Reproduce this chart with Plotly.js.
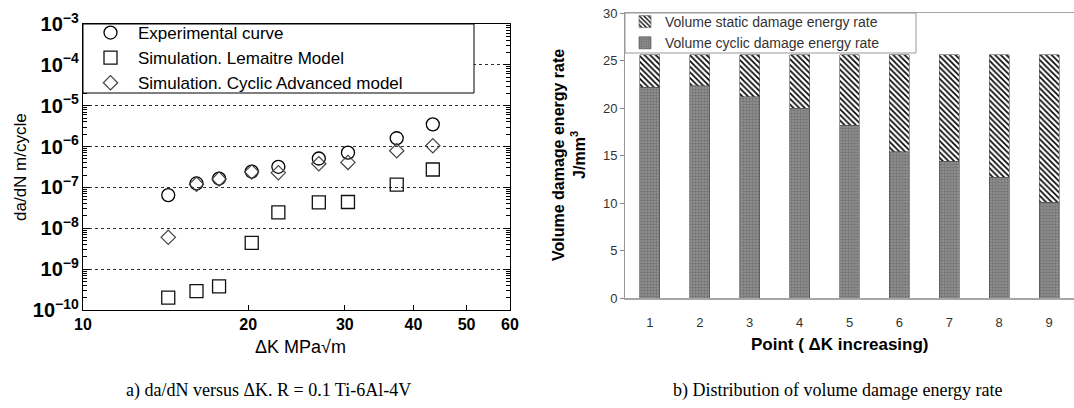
<!DOCTYPE html>
<html><head><meta charset="utf-8">
<script src="https://cdn.plot.ly/plotly-3.0.1.min.js"></script>
<style>body{margin:0;background:#fff}#chart{width:1074px;height:408px}</style>
</head><body><div id="chart"></div>
<script>
// ---- Panel a: da/dN versus deltaK ----
const deltaK = [14.3, 16.1, 17.7, 20.3, 22.7, 26.9, 30.4, 37.3, 43.4];
const experimental = [6.5e-8, 1.25e-7, 1.65e-7, 2.45e-7, 3.2e-7, 5.1e-7, 7.1e-7, 1.6e-6, 3.5e-6];
const lemaitre = [2.0e-10, 2.9e-10, 3.8e-10, 4.4e-9, 2.45e-8, 4.3e-8, 4.4e-8, 1.17e-7, 2.75e-7];
const cyclicAdvanced = [6.0e-9, 1.2e-7, 1.6e-7, 2.4e-7, 2.3e-7, 3.8e-7, 4.1e-7, 7.9e-7, 1.05e-6];
const xTicksA = [10, 20, 30, 40, 50, 60];
const seriesNamesA = ['Experimental curve', 'Simulation. Lemaitre Model', 'Simulation. Cyclic Advanced model'];

// ---- Panel b: volume damage energy rate ----
const points = ['1', '2', '3', '4', '5', '6', '7', '8', '9'];
const cyclicEnergy = [22.2, 22.35, 21.2, 19.95, 18.2, 15.4, 14.4, 12.7, 10.1];
const staticEnergy = [3.4, 3.25, 4.4, 5.65, 7.4, 10.2, 11.2, 12.9, 15.5];
const seriesNamesB = ['Volume cyclic damage energy rate', 'Volume static damage energy rate'];

const W = 1074, H = 408;
const px = v => v / W, py = v => 1 - v / H;
const sans = 'Liberation Sans, Arial, sans-serif';
const serif = 'Liberation Serif, Times New Roman, serif';

// minor tick positions for the log axis (2..9 within each decade)
const minorTicks = [];
for (let e = -10; e < -3; e++) for (let m = 2; m <= 9; m++) minorTicks.push(m * Math.pow(10, e));

const traces = [
  {x: deltaK, y: experimental, name: seriesNamesA[0], type: 'scatter', mode: 'markers',
   xaxis: 'x', yaxis: 'y', legend: 'legend',
   marker: {symbol: 'circle-open', size: 13, color: '#000', line: {width: 1.3, color: '#000'}}},
  {x: deltaK, y: lemaitre, name: seriesNamesA[1], type: 'scatter', mode: 'markers',
   xaxis: 'x', yaxis: 'y', legend: 'legend',
   marker: {symbol: 'square-open', size: 13, color: '#111', line: {width: 1.3, color: '#111'}}},
  {x: deltaK, y: cyclicAdvanced, name: seriesNamesA[2], type: 'scatter', mode: 'markers',
   xaxis: 'x', yaxis: 'y', legend: 'legend',
   marker: {symbol: 'diamond-open', size: 11, color: '#444', line: {width: 1.2, color: '#444'}}},
  {x: [], y: [], type: 'scatter', mode: 'markers', xaxis: 'x', yaxis: 'y3', showlegend: false, hoverinfo: 'skip'},
  {x: points, y: cyclicEnergy, name: seriesNamesB[0], type: 'bar',
   xaxis: 'x2', yaxis: 'y2', legend: 'legend2',
   marker: {color: '#8c8c8c', line: {width: 0.6, color: '#444'},
            pattern: {shape: '.', fgcolor: '#737373', bgcolor: '#959595', size: 3, solidity: 0.5}}},
  {x: points, y: staticEnergy, name: seriesNamesB[1], type: 'bar',
   xaxis: 'x2', yaxis: 'y2', legend: 'legend2',
   marker: {color: '#ffffff', line: {width: 0.6, color: '#555'},
            pattern: {shape: '\\', fgcolor: '#000', bgcolor: '#fff', size: 4, solidity: 0.4}}}
];

const ann = (text, x, y, font, extra) => Object.assign({
  text, x: px(x), y: py(y), xref: 'paper', yref: 'paper', xanchor: 'center', yanchor: 'middle',
  showarrow: false, font}, extra || {});

// legend frames (decoration only)
const frame = (x0, y0, x1, y1, color) => ({
  type: 'rect', xref: 'paper', yref: 'paper', layer: 'above',
  x0: px(x0), x1: px(x1), y0: py(y1), y1: py(y0),
  fillcolor: '#fff', line: {color, width: 1}});

const layout = {
  width: W, height: H,
  margin: {l: 0, r: 0, t: 0, b: 0},
  paper_bgcolor: '#fff', plot_bgcolor: '#fff',
  barmode: 'stack', bargap: 0.6,
  font: {family: sans, color: '#000'},
  xaxis: {
    type: 'log', range: [1, Math.log10(60)], domain: [px(83), px(510)], anchor: 'y',
    tickmode: 'array', tickvals: xTicksA, ticktext: xTicksA.map(String),
    ticks: 'inside', ticklen: 5, tickcolor: '#000',
    showline: true, linecolor: '#000', linewidth: 1, mirror: true,
    showgrid: false, zeroline: false,
    tickfont: {family: sans, size: 16, color: '#000', weight: 'bold'}
  },
  yaxis: {
    type: 'log', range: [-10, -3], domain: [py(310), py(24)], anchor: 'x',
    dtick: 1, exponentformat: 'power', showexponent: 'all',
    ticks: 'inside', ticklen: 7, tickcolor: '#000',
    showline: true, linecolor: '#000', linewidth: 1, mirror: 'ticks',
    showgrid: true, gridcolor: '#333', griddash: 'dot', gridwidth: 1, zeroline: false,
    tickfont: {family: sans, size: 16, color: '#000', weight: 'bold'}
  },
  yaxis3: {
    type: 'log', range: [-10, -3], overlaying: 'y', anchor: 'x', side: 'left',
    tickmode: 'array', tickvals: minorTicks, showticklabels: false,
    ticks: 'inside', ticklen: 4, tickcolor: '#000',
    showline: true, linecolor: '#000', linewidth: 1, mirror: 'ticks',
    showgrid: false, zeroline: false
  },
  xaxis2: {
    type: 'category', domain: [px(625), 1], anchor: 'y2',
    ticks: '', showline: true, linecolor: '#a6a6a6', linewidth: 1.5, mirror: true,
    showgrid: false, zeroline: false, ticklabelstandoff: 12,
    tickfont: {family: sans, size: 13, color: '#333'}
  },
  yaxis2: {
    range: [0, 30], dtick: 5, domain: [py(298), py(13)], anchor: 'x2',
    ticks: 'outside', ticklen: 4, tickcolor: '#888',
    showline: true, linecolor: '#999', linewidth: 1,
    showgrid: false, zeroline: false,
    tickfont: {family: sans, size: 13, color: '#333'}
  },
  legend: {
    x: px(83), y: py(15), xanchor: 'left', yanchor: 'top',
    bgcolor: 'rgba(0,0,0,0)', borderwidth: 0,
    font: {family: sans, size: 17, color: '#000'}, tracegroupgap: 0, itemwidth: 45
  },
  legend2: {
    x: px(625), y: py(6), xanchor: 'left', yanchor: 'top',
    bgcolor: 'rgba(0,0,0,0)', borderwidth: 0,
    font: {family: sans, size: 14, color: '#333'}, traceorder: 'reversed', itemwidth: 30
  },
  shapes: [
    frame(83, 24, 474, 93, '#000'),
    frame(625, 13, 916, 53, '#999')
  ],
  annotations: [
    ann('da/dN m/cycle', 20, 167, {family: sans, size: 17, color: '#000'}, {textangle: -90}),
    ann('ΔK MPa√m', 300, 347, {family: sans, size: 18, color: '#000'}),
    ann('Volume damage energy rate<br>J/mm<sup>3</sup>', 569, 155,
        {family: sans, size: 16, color: '#000', weight: 'bold'}, {textangle: -90}),
    ann('Point ( ΔK increasing)', 840, 344, {family: sans, size: 17, color: '#000', weight: 'bold'}),
    ann('a) da/dN versus ΔK. R = 0.1 Ti-6Al-4V', 268, 390, {family: serif, size: 18, color: '#000'}),
    ann('b) Distribution of volume damage energy rate', 838, 390, {family: serif, size: 18, color: '#000'})
  ]
};

Plotly.newPlot('chart', traces, layout, {displayModeBar: false, staticPlot: true});
</script>
</body></html>
